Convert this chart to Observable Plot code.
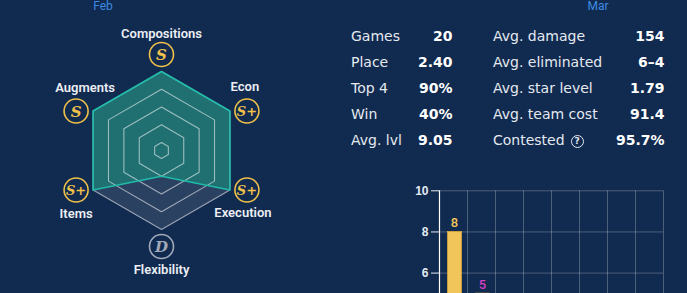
<!DOCTYPE html>
<html>
<head>
<meta charset="utf-8">
<script src="https://cdn.jsdelivr.net/npm/d3@7"></script>
<script src="https://cdn.jsdelivr.net/npm/@observablehq/plot@0.6"></script>
<style>
  html, body { margin: 0; padding: 0; }
  body { width: 687px; height: 293px; overflow: hidden; background: #112a4f; position: relative; font-family: "DejaVu Sans", sans-serif; }
  .month { position: absolute; font-family: Roboto, sans-serif; font-size: 12px; color: #3d8ae2; transform: translate(-50%, -50%); line-height: 14px; }
  .lab { position: absolute; font-size: 14px; color: #e4e9f0; line-height: 20px; white-space: nowrap; }
  .val { position: absolute; font-size: 14px; font-weight: bold; color: #ffffff; line-height: 20px; white-space: nowrap; text-align: right; }
  .help { display: inline-block; width: 11px; height: 11px; border: 1.4px solid #e4e9f0; border-radius: 50%; font-size: 9px; line-height: 11px; text-align: center; vertical-align: 1px; margin-left: 6px; font-weight: bold; }
</style>
</head>
<body>
<script>
// ---------- data ----------
const MONTHS = ["Feb", "Mar"];
const RADAR_AXES = ["Compositions", "Econ", "Execution", "Flexibility", "Items", "Augments"];
const RADAR_GRADES = ["S", "S+", "S+", "D", "S+", "S"];
const RADAR_SCORES = [1, 1, 1, 0.325, 1, 1];
const RING_LEVELS = [0.1, 0.325, 0.55, 0.775, 1];

const STAT_LEFT_LABELS = ["Games", "Place", "Top 4", "Win", "Avg. lvl"];
const STAT_LEFT_VALUES = ["20", "2.40", "90%", "40%", "9.05"];
const STAT_RIGHT_LABELS = ["Avg. damage", "Avg. eliminated", "Avg. star level", "Avg. team cost", "Contested"];
const STAT_RIGHT_VALUES = ["154", "6–4", "1.79", "91.4", "95.7%"];

const PLACEMENTS = [1, 2, 3, 4, 5, 6, 7, 8];
const PLACEMENT_COUNTS = [8, 5, 2, 3, 1, 0, 1, 0];
const GRID_TICKS = [2, 4, 6, 8, 10];
const VISIBLE_TICKS = [6, 8, 10];

// ---------- layout / style ----------
const GOLD = "#efc04a";
const PLACE_COLORS = ["#f2c55a", "#d33fc4", "#4aa3df", "#4aa3df", "#8a9ab3", "#8a9ab3", "#8a9ab3", "#8a9ab3"];
const R_PX = 79;            // radar radius in px
const CX = 161, CY = 150;   // radar centre in px
const ICON_OFF = 17;        // px offset from vertex to grade badge
const LABEL_NUDGE = [[0, -21], [-2, -24], [-4, 23], [0, 23], [0, 24], [9, -23]]; // px, label relative to badge

// months
MONTHS.forEach((m, i) => {
  const d = document.createElement("div");
  d.className = "month";
  d.textContent = m;
  d.style.left = (i === 0 ? 103 : 598) + "px";
  d.style.top = "6px";
  document.body.appendChild(d);
});

// ---------- radar ----------
const angle = i => i * Math.PI / 3;
const vert = (i, r) => ({x: r * Math.sin(angle(i)), y: r * Math.cos(angle(i))});

const rings = RING_LEVELS.flatMap(lv => RADAR_AXES.map((a, i) => ({ring: lv, ...vert(i, lv)})));
const shape = RADAR_AXES.map((a, i) => ({axis: a, ...vert(i, RADAR_SCORES[i])}));
const outer = RADAR_AXES.map((a, i) => vert(i, 1));

const off = ICON_OFF / R_PX;
const badges = RADAR_AXES.map((a, i) => {
  const v = vert(i, 1);
  const s = Math.sin(angle(i));
  const bx = Math.abs(s) < 0.01 ? v.x : v.x + Math.sign(s) * off;
  const by = Math.abs(s) < 0.01 ? v.y + Math.sign(v.y) * off : v.y;
  return {
    axis: a, grade: RADAR_GRADES[i], x: bx, y: by,
    lx: bx + LABEL_NUDGE[i][0] / R_PX, ly: by - LABEL_NUDGE[i][1] / R_PX,
    color: RADAR_GRADES[i] === "D" ? "#a3aaba" : GOLD
  };
});

const radar = Plot.plot({
  width: 340, height: 293,
  margin: 0,
  x: {domain: [-CX / R_PX, (340 - CX) / R_PX], axis: null},
  y: {domain: [-(293 - CY) / R_PX, CY / R_PX], axis: null},
  style: {background: "transparent"},
  marks: [
    Plot.line(outer, {x: "x", y: "y", curve: "linear-closed", fill: "#ffffff", fillOpacity: 0.11, stroke: "none"}),
    Plot.line(shape, {x: "x", y: "y", curve: "linear-closed", fill: "#1f7372", fillOpacity: 0.92, stroke: "none"}),
    Plot.line(rings, {x: "x", y: "y", z: "ring", curve: "linear-closed", stroke: "#ffffff", strokeOpacity: 0.55, strokeWidth: 1.1}),
    Plot.line(shape, {x: "x", y: "y", curve: "linear-closed", stroke: "#1fbaa8", strokeWidth: 1.6}),
    Plot.dot(badges, {x: "x", y: "y", r: 12, stroke: "color", strokeWidth: 1.6, fill: "none"}),
    Plot.text(badges, {x: "x", y: "y", text: "grade", fill: "color", fontFamily: "DejaVu Serif", fontStyle: "italic", fontWeight: "bold", fontSize: d => d.grade.length > 1 ? 13 : 15, dy: 1}),
    Plot.text(badges, {x: "lx", y: "ly", text: "axis", fill: "#eceff4", fontFamily: "Roboto", fontWeight: 600, fontSize: 13})
  ]
});
radar.style.position = "absolute";
radar.style.left = "0px";
radar.style.top = "0px";
document.body.appendChild(radar);

// ---------- stats ----------
const ROW_Y = 35.5, ROW_STEP = 26;
function addText(cls, text, x, yc, alignRight) {
  const d = document.createElement("div");
  d.className = cls;
  d.innerHTML = text;
  d.style.top = (yc - 10) + "px";
  if (alignRight) d.style.right = (687 - x) + "px"; else d.style.left = x + "px";
  document.body.appendChild(d);
}
STAT_LEFT_LABELS.forEach((l, i) => {
  addText("lab", l, 351, ROW_Y + i * ROW_STEP, false);
  addText("val", STAT_LEFT_VALUES[i], 452.5, ROW_Y + i * ROW_STEP, true);
});
STAT_RIGHT_LABELS.forEach((l, i) => {
  const t = l === "Contested" ? l + '<span class="help">?</span>' : l;
  addText("lab", t, 493, ROW_Y + i * ROW_STEP, false);
  addText("val", STAT_RIGHT_VALUES[i], 664.5, ROW_Y + i * ROW_STEP, true);
});

// ---------- placement bars (panel is cut by the window bottom) ----------
const PANEL_TOP = 170, PANEL_H = 293 - PANEL_TOP;
const bars = PLACEMENTS.map((p, i) => ({place: p, count: PLACEMENT_COUNTS[i], color: PLACE_COLORS[i]}));
const bounds = PLACEMENTS.map(p => p + 0.5);
const yRange = [226, 20.3];
const yPix = v => yRange[0] + (yRange[1] - yRange[0]) * v / 10;
const barPlot = Plot.plot({
  width: 287, height: PANEL_H,
  marginLeft: 39, marginRight: 24, marginTop: 20, marginBottom: 0,
  x: {domain: [0.5, 8.5], axis: null},
  y: {domain: [0, 10], range: yRange},
  style: {background: "transparent"},
  marks: [
    Plot.ruleY(GRID_TICKS, {stroke: "#ffffff", strokeOpacity: 0.25}),
    Plot.ruleX(bounds, {y1: 0, y2: 10, stroke: "#ffffff", strokeOpacity: 0.25}),
    Plot.rectY(bars, {x1: d => d.place - 0.25, x2: d => d.place + 0.25, y: "count", fill: "color", stroke: "#d4a73f", strokeWidth: 0.8, dx: 1.5}),
    Plot.text(bars.filter(d => d.count > 0 && yPix(d.count) - 9 < PANEL_H - 4), {x: "place", y: "count", text: d => String(d.count), fill: "color", dy: -9, dx: 1, fontFamily: "Roboto", fontWeight: 500, fontSize: 13}),
    Plot.ruleX([0.5], {y1: 0, y2: 10, stroke: "#ffffff", strokeWidth: 1.2}),
    Plot.axisY({ticks: VISIBLE_TICKS, tickSize: 8, tickPadding: 3, color: "#e4eaf2", fontSize: 12, fontWeight: "bold", fontFamily: "Liberation Sans", label: null})
  ]
});
barPlot.style.position = "absolute";
barPlot.style.left = "400px";
barPlot.style.top = PANEL_TOP + "px";
document.body.appendChild(barPlot);
</script>
</body>
</html>
